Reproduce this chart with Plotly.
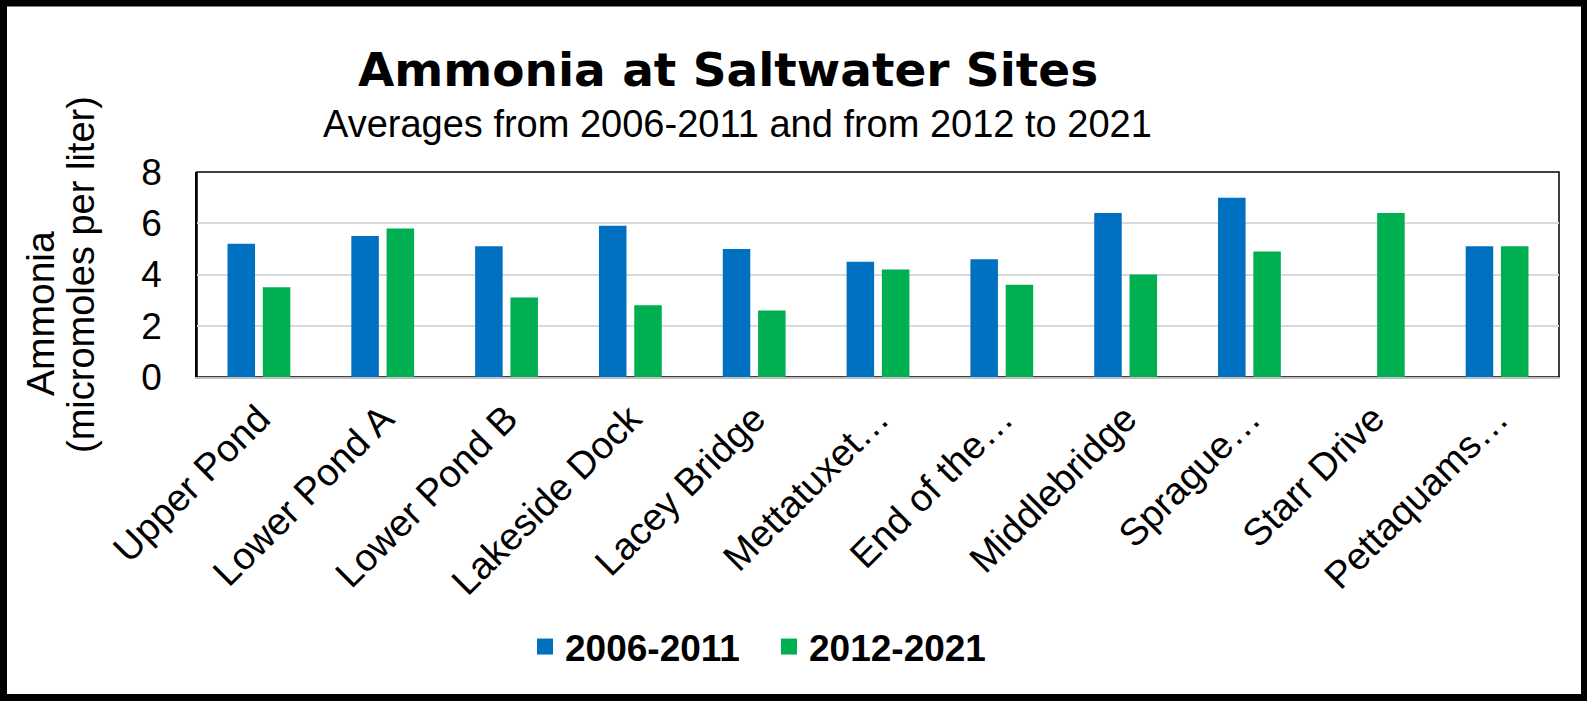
import plotly.graph_objects as go

sites = ["Upper Pond", "Lower Pond A", "Lower Pond B", "Lakeside Dock", "Lacey Bridge",
         "Mettatuxet…", "End of the…", "Middlebridge", "Sprague…", "Starr Drive", "Pettaquams…"]
avg_2006_2011 = [5.2, 5.5, 5.1, 5.9, 5.0, 4.5, 4.6, 6.4, 7.0, None, 5.1]
avg_2012_2021 = [3.5, 5.8, 3.1, 2.8, 2.6, 4.2, 3.6, 4.0, 4.9, 6.4, 5.1]
series_names = ["2006-2011", "2012-2021"]
series_colors = ["#0070C0", "#00B050"]
y_ticks = [0, 2, 4, 6, 8]

W, H = 1587, 701
L, R, T, B = 197, 28, 172, 324
PW, PH = W - L - R, H - T - B

def px_x(px):
    return (px - L) / PW

def px_y(py):
    return (H - py - B) / PH

fig = go.Figure()
for name, vals, col in zip(series_names, [avg_2006_2011, avg_2012_2021], series_colors):
    fig.add_trace(go.Bar(name=name, x=sites, y=vals, legendgroup=name, showlegend=False,
                         marker=dict(color=col, line=dict(width=0))))
# legend entries (larger square swatches)
for name, col in zip(series_names, series_colors):
    fig.add_trace(go.Scatter(name=name, x=[None], y=[None], mode="markers",
                             legendgroup=name, showlegend=True, hoverinfo="skip",
                             marker=dict(symbol="square", size=20, color=col)))

fig.update_layout(
    width=W, height=H,
    margin=dict(l=L, r=R, t=T, b=B),
    paper_bgcolor="white", plot_bgcolor="white",
    barmode="group", bargap=0.43, bargroupgap=0.22,
    title=dict(text="<b>Ammonia at Saltwater Sites</b>",
               font=dict(family="DejaVu Sans", size=47, color="black"),
               xref="container", x=728 / W, xanchor="center",
               yref="container", y=1 - 70 / H, yanchor="middle"),
    legend=dict(orientation="h", xref="paper", yref="paper",
                x=px_x(769), xanchor="center", y=px_y(647), yanchor="middle",
                font=dict(family="Liberation Sans", size=37,
                          color="black", weight="bold"),
                itemwidth=30, entrywidth=199, bgcolor="rgba(0,0,0,0)"),
    font=dict(family="Liberation Sans, Arial", color="black"),
)

fig.update_xaxes(showgrid=False, showline=True, linecolor="#BFBFBF", linewidth=2,
                 tickangle=-45, tickfont=dict(size=38, family="Liberation Sans"),
                 ticks="", ticklabelstandoff=2)
fig.update_yaxes(range=[0, 8], tickvals=y_ticks, showgrid=True, gridcolor="#D9D9D9",
                 gridwidth=1.5, zeroline=False, showline=True, linecolor="black",
                 linewidth=1.5, tickfont=dict(size=37, family="Liberation Sans"),
                 ticks="", ticklabelstandoff=26)

# plot frame
fig.add_shape(type="rect", xref="paper", yref="paper", x0=0, x1=1, y0=0, y1=1,
              line=dict(color="black", width=1.5), layer="below")
# outer border
fig.add_shape(type="rect", xref="paper", yref="paper",
              x0=px_x(3.5), x1=px_x(1584.5), y0=px_y(697.5), y1=px_y(3),
              line=dict(color="black", width=7))

fig.add_annotation(text="Averages from 2006-2011 and from 2012 to 2021",
                   xref="paper", yref="paper", x=px_x(737), y=px_y(124),
                   xanchor="center", yanchor="middle", showarrow=False,
                   font=dict(size=38, family="Liberation Sans", color="black"))
fig.add_annotation(text="Ammonia", xref="paper", yref="paper",
                   x=px_x(40), y=px_y(314), textangle=-90, showarrow=False,
                   xanchor="center", yanchor="middle",
                   font=dict(size=39, family="Liberation Sans", color="black"))
fig.add_annotation(text="(micromoles per liter)", xref="paper", yref="paper",
                   x=px_x(81), y=px_y(275), textangle=-90, showarrow=False,
                   xanchor="center", yanchor="middle",
                   font=dict(size=38, family="Liberation Sans", color="black"))

fig.write_html("out.html")
